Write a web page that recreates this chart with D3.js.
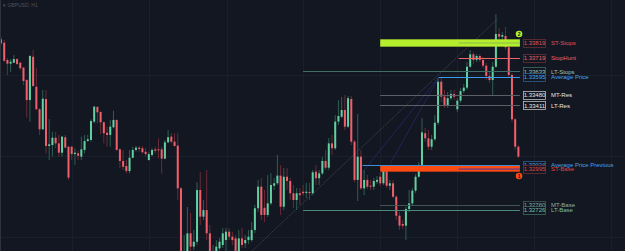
<!DOCTYPE html>
<html>
<head>
<meta charset="utf-8">
<script src="https://cdn.jsdelivr.net/npm/d3@7"></script>
<style>
  html, body { margin: 0; padding: 0; background: #131722; overflow: hidden; }
  svg { display: block; }
</style>
</head>
<body>
<div id="chart"></div>
<script>
// Candles, prices in points (1e-5)
const opens = [133843,133821,133708,133684,133690,133714,133690,133658,133577,133446,133729,133533,133386,133255,133453,133146,133152,133200,133163,133102,133203,133141,133141,133093,133098,133076,133120,133178,133185,133305,133401,133368,133301,133233,133218,133268,133316,133124,133048,133015,132982,133069,133120,133135,133131,133108,133054,133087,133124,133124,133124,133063,133170,133207,133174,133148,132869,132388,132427,132575,132488,132520,132858,132684,132727,132575,132414,132446,132477,132499,132531,132586,132553,132542,132453,132542,132510,132531,132531,132597,132739,132880,132742,132695,132771,132886,132902,132952,132749,132945,132917,132837,132793,132837,132847,132839,132845,132837,132978,132935,132967,133048,133004,133163,133131,133305,133337,133381,133272,133453,133174,132924,133076,132869,132924,132886,132880,132912,132945,132902,132989,132886,132902,132814,132690,132636,132625,132734,132771,132854,132945,133022,133229,133196,133141,133190,133298,133566,133468,133414,133458,133486,133386,133442,133505,133527,133664,133745,133708,133734,133708,133671,133603,133577,133664,133878,133860,133865,133791,133610,133320,133141];
const highs = [133858,133839,133721,133714,133740,133721,133695,133662,133584,133740,133773,133658,133394,133512,133512,133322,133239,133239,133218,133211,133218,133146,133145,133131,133115,133207,133218,133218,133320,133407,133407,133372,133305,133272,133316,133376,133320,133131,133120,133054,133120,133141,133146,133146,133146,133131,133108,133131,133141,133196,133141,133185,133250,133229,133229,133229,132878,132564,132747,132708,132597,132910,132976,132793,132989,132629,132499,132531,132544,132610,132610,132610,132584,132564,132597,132610,132564,132597,132649,132760,132924,132937,132858,132956,132969,132937,133087,133022,133002,133002,132937,132891,132871,132871,132891,132904,132904,132989,133022,132989,133074,133120,133198,133218,133348,133446,133466,133479,133473,133473,133185,133355,133120,132989,132956,132924,132937,132950,132976,133022,133008,132924,132924,132825,132714,132662,132747,132858,132871,132963,133041,133329,133263,133250,133218,133348,133590,133590,133512,133499,133512,133512,133459,133525,133551,133695,133773,133760,133747,133747,133727,133688,133629,133695,134008,133917,133891,133924,133806,133623,133329,133152];
const lows = [133806,133695,133610,133631,133688,133675,133642,133544,133331,133305,133531,133381,133218,133250,133098,133054,133076,133133,133076,133076,133131,132924,133054,133022,133054,133054,133098,133174,133174,133294,133294,133224,133163,133141,133141,133261,133115,133000,132989,132967,132967,133065,133108,133108,133098,133076,133050,133076,133098,133065,132967,133059,133163,133163,133141,132793,132388,132361,132401,132459,132466,132499,132629,132662,132531,132388,132368,132427,132466,132479,132453,132531,132499,132414,132427,132479,132479,132505,132518,132577,132714,132662,132649,132682,132760,132858,132891,132695,132727,132858,132793,132741,132727,132760,132819,132806,132793,132825,132891,132891,132956,132989,132989,133087,133120,133283,133329,133250,133263,133152,132910,132786,132858,132825,132865,132858,132858,132897,132884,132891,132871,132858,132806,132662,132597,132603,132531,132714,132754,132839,132937,133015,133172,133120,133120,133178,133283,133433,133394,133394,133446,133446,133368,133427,133492,133512,133656,133682,133695,133695,133656,133577,133558,133473,133656,133839,133839,133773,133590,133303,133120,133067];
const closes = [133817,133703,133684,133697,133714,133682,133654,133571,133446,133734,133538,133386,133255,133455,133146,133157,133200,133163,133102,133207,133135,132939,133093,133102,133082,133124,133178,133190,133309,133403,133366,133301,133229,133218,133272,133316,133120,133048,133010,132982,133069,133120,133135,133126,133105,133093,133093,133120,133115,133119,133063,133170,133203,133174,133146,132869,132414,132453,132575,132488,132520,132858,132684,132727,132575,132427,132453,132488,132520,132575,132586,132553,132531,132453,132542,132499,132531,132553,132597,132739,132880,132695,132695,132771,132891,132902,132952,132749,132945,132917,132837,132793,132837,132825,132837,132847,132838,132974,132935,132967,133048,133004,133163,133131,133305,133342,133381,133272,133458,133174,132924,133076,132869,132924,132880,132879,132917,132924,132902,132989,132886,132902,132814,132690,132625,132625,132734,132771,132854,132945,133022,133235,133196,133141,133190,133298,133566,133468,133414,133458,133486,133468,133442,133505,133527,133664,133745,133708,133734,133708,133671,133603,133577,133664,133878,133860,133871,133791,133610,133320,133141,133076];

// Levels
const levelNames  = ["ST-Stops", "StopHunt", "LT-Stops", "Average Price", "MT-Res", "LT-Res", "Average Price Previous", "ST-Base", "MT-Base", "LT-Base"];
const levelPrices = [1.33819, 1.33719, 1.33633, 1.33595, 1.33480, 1.33411, 1.33024, 1.32995, 1.32760, 1.32726];
const levelStart  = [119, 143.4, 95, 137.2, 119, 119, 113.5, 119, 119, 95];
const levelLabels = ["1.33819", "1.33719", "1.33633", "1.33595", "1.33480", "1.33411", "1.33024", "1.32995", "1.32760", "1.32726"];
// Zones drawn as bands (top, bottom price)
const bandTop    = { "ST-Stops": 1.33843, "ST-Base": 1.33015 };
const bandBottom = { "ST-Stops": 1.33795, "ST-Base": 1.32978 };

// Trend / fan lines: [index, price] -> [index, price]
const fanFrom = [[79.1, 1.32459], [137.2, 1.33595], [137.2, 1.33595]];
const fanTo   = [[155.5, 1.33976], [122.2, 1.33033], [112.8, 1.32956]];

// Markers
const markerText  = ["2", "1"];
const markerIndex = [162.2, 162.2];
const markerPrice = [1.33878, 1.32950];

const W = 625, H = 251;
const PT = 1e-5;
const lastIndex = 162;

const x = d3.scaleLinear().domain([1, lastIndex]).range([1, 518.4]);
const y = d3.scaleLinear().domain([1.324595, 1.341]).range([H, 0]);

const svg = d3.select("#chart").append("svg")
  .attr("width", W).attr("height", H);

svg.append("rect").attr("width", W).attr("height", H).attr("fill", "#131722");

// faint grid
const grid = svg.append("g").attr("stroke", "#1a1f2c").attr("stroke-width", 1);
[72, 149, 227, 303, 380, 457, 534, 611].forEach(gx => {
  grid.append("line").attr("x1", gx + 0.5).attr("x2", gx + 0.5).attr("y1", 0).attr("y2", H);
});
[75, 156, 237].forEach(gy => {
  grid.append("line").attr("x1", 0).attr("x2", W).attr("y1", gy + 0.5).attr("y2", gy + 0.5);
});

const style = {
  "ST-Stops": { line: "#b4ee2c", text: "#e0525c", box: "#6b2e36" },
  "StopHunt": { line: "#ee6468", text: "#ee6468", box: "#6b2e36" },
  "LT-Stops": { line: "#3f6f64", text: "#9cc8b8", box: "#3f6b5d" },
  "Average Price": { line: "#3a9ef0", text: "#45a5f5", box: "#2e5f8f" },
  "MT-Res": { line: "#5d5f66", text: "#e6e6e6", box: "#bdbdbd" },
  "LT-Res": { line: "#5d5f66", text: "#e6e6e6", box: "#bdbdbd" },
  "Average Price Previous": { line: "#3f8fd8", text: "#4aa0e8", box: "#2e5f8f" },
  "ST-Base": { line: "#ff4a12", text: "#e04545", box: "#6b2e36" },
  "MT-Base": { line: "#41544f", text: "#8fb0a0", box: "#3f5a52" },
  "LT-Base": { line: "#4b8a76", text: "#78c0a8", box: "#3f6b5d" }
};

const endX = x(lastIndex) + 1.5;

// fan lines (behind candles)
const fan = svg.append("g");
fanFrom.forEach((f, i) => {
  const t = fanTo[i];
  fan.append("line")
    .attr("x1", x(f[0])).attr("y1", y(f[1]))
    .attr("x2", x(t[0])).attr("y2", y(t[1]))
    .attr("stroke", i === 0 ? "#474c58" : "#222c6e")
    .attr("stroke-width", 0.7)
    .attr("stroke-dasharray", i === 0 ? "2,1" : null);
});

// candles
const candles = svg.append("g");
opens.forEach((o, i) => {
  const cx = x(i + 1);
  const up = closes[i] >= o;
  const top = y(Math.max(o, closes[i]) * PT);
  const bot = y(Math.min(o, closes[i]) * PT);
  candles.append("line")
    .attr("x1", cx).attr("x2", cx)
    .attr("y1", y(highs[i] * PT)).attr("y2", y(lows[i] * PT))
    .attr("stroke", up ? "#2f5e52" : "#6a2a36").attr("stroke-width", 1);
  candles.append("rect")
    .attr("x", cx - 1).attr("y", top)
    .attr("width", 2).attr("height", Math.max(1, bot - top))
    .attr("fill", up ? "#62d0a0" : "#f0606c");
});

// bands and level lines (over candles)
const levels = svg.append("g");
levelNames.forEach((name, i) => {
  const s = style[name];
  const x0 = x(levelStart[i]);
  if (bandTop[name]) {
    levels.append("rect")
      .attr("x", x0).attr("y", y(bandTop[name]))
      .attr("width", endX - x0)
      .attr("height", y(bandBottom[name]) - y(bandTop[name]))
      .attr("fill", s.line);
  } else {
    levels.append("line")
      .attr("x1", x0).attr("x2", endX)
      .attr("y1", Math.round(y(levelPrices[i])) + 0.5)
      .attr("y2", Math.round(y(levelPrices[i])) + 0.5)
      .attr("stroke", s.line).attr("stroke-width", 1);
  }
});

// thin lines inside the bands
const inner = svg.append("g");
inner.append("line")
  .attr("x1", x(143.4)).attr("x2", endX)
  .attr("y1", y(1.33819)).attr("y2", y(1.33819))
  .attr("stroke", "#7fae5a").attr("stroke-width", 0.8);
inner.append("line")
  .attr("x1", x(143.4)).attr("x2", endX)
  .attr("y1", y(1.32995)).attr("y2", y(1.32995))
  .attr("stroke", "#3a3aa8").attr("stroke-width", 1);

// labels
const labels = svg.append("g")
  .attr("font-family", "'Liberation Sans', Arial, sans-serif");
levelNames.forEach((name, i) => {
  const s = style[name];
  const ly = y(levelPrices[i]);
  labels.append("rect")
    .attr("x", 523.5).attr("y", Math.round(ly - 4) + 0.5)
    .attr("width", 22).attr("height", 8)
    .attr("fill", "#131722").attr("stroke", s.box).attr("stroke-width", 0.8);
  labels.append("text")
    .attr("x", 534.5).attr("y", ly + 2.1)
    .attr("text-anchor", "middle")
    .attr("font-size", 6).attr("fill", s.text)
    .text(levelLabels[i]);
  labels.append("text")
    .attr("x", 551).attr("y", ly + 2.1)
    .attr("font-size", 6).attr("fill", s.text)
    .text(name);
});

// markers
const markerFill = ["#b4ee2c", "#ff4a12"];
markerText.forEach((t, i) => {
  const mx = x(markerIndex[i]), my = y(markerPrice[i]);
  svg.append("circle").attr("cx", mx).attr("cy", my).attr("r", 3.3).attr("fill", markerFill[i]);
  svg.append("text").attr("x", mx).attr("y", my + 2)
    .attr("text-anchor", "middle").attr("font-size", 5).attr("font-weight", "bold")
    .attr("font-family", "'Liberation Sans', Arial, sans-serif")
    .attr("fill", "#131722").text(t);
});

// left border + title
svg.append("line").attr("x1", 0.5).attr("x2", 0.5).attr("y1", 0).attr("y2", H)
  .attr("stroke", "#2e323d").attr("stroke-width", 1);
svg.append("text").attr("x", 3).attr("y", 7)
  .attr("font-size", 5).attr("fill", "#4e5360")
  .attr("font-family", "'Liberation Sans', Arial, sans-serif")
  .text("▾ GBPUSD, H1");
</script>
</body>
</html>
